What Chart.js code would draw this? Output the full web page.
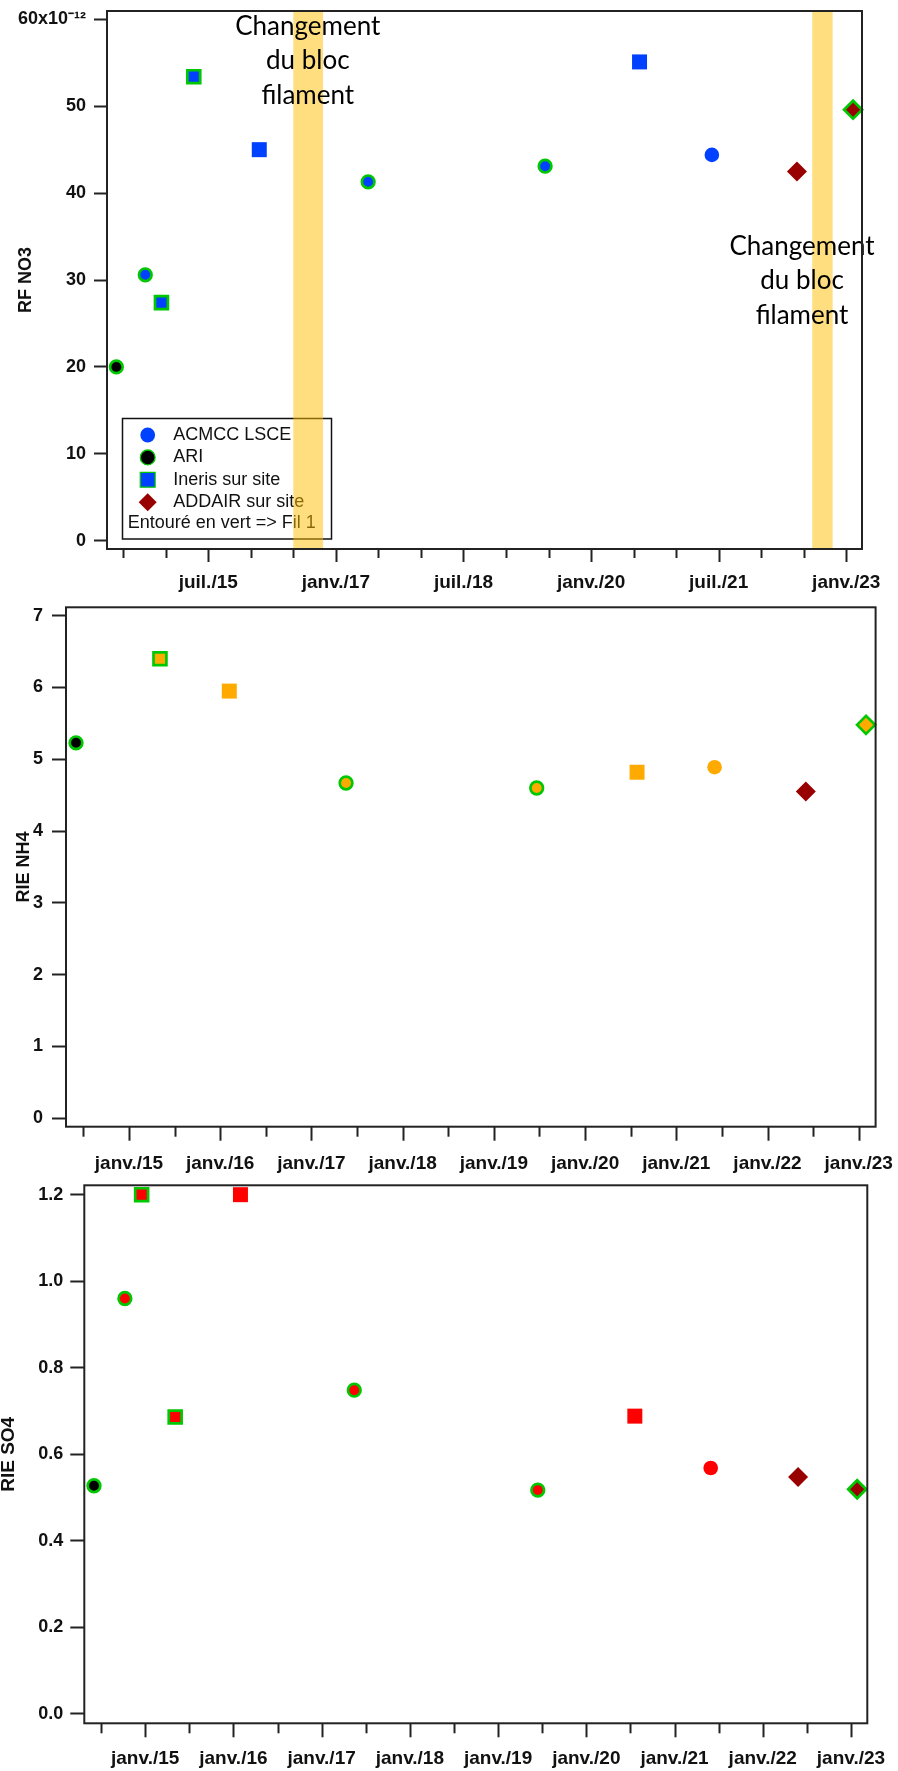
<!DOCTYPE html>
<html lang="fr">
<head>
<meta charset="utf-8">
<title>RF NO3 / RIE NH4 / RIE SO4</title>
<script src="https://cdn.jsdelivr.net/npm/chart.js@4.4.0/dist/chart.umd.min.js"></script>
<style>
  html, body { margin: 0; padding: 0; background: #fff; }
  body { width: 898px; height: 1771px; position: relative; overflow: hidden; }
  .panel { position: absolute; left: 0; }
  #panel-no3 { top: 0; }
  #panel-nh4 { top: 600px; }
  #panel-so4 { top: 1180px; }
</style>
</head>
<body>
<div class="panel" id="panel-no3"><canvas id="chart-no3" width="898" height="600"></canvas></div>
<div class="panel" id="panel-nh4"><canvas id="chart-nh4" width="898" height="580"></canvas></div>
<div class="panel" id="panel-so4"><canvas id="chart-so4" width="898" height="591"></canvas></div>
<script>
// ====== DONNÉES ======
const sources = ["ACMCC LSCE", "ARI", "Ineris sur site", "ADDAIR sur site"];

// RF NO3 (valeurs en x10^-12), dates en années décimales
const no3Dates   = [2014.42, 2014.76, 2014.95, 2015.33, 2016.10, 2017.38, 2019.46, 2020.57, 2021.42, 2022.42, 2023.08];
const no3Values  = [20.0, 30.6, 27.4, 53.4, 45.0, 41.3, 43.1, 55.1, 44.4, 42.5, 49.6];
const no3Sources = ["ARI", "ACMCC LSCE", "Ineris sur site", "Ineris sur site", "Ineris sur site", "ACMCC LSCE",
                    "ACMCC LSCE", "Ineris sur site", "ACMCC LSCE", "ADDAIR sur site", "ADDAIR sur site"];
const no3Fil1    = [true, true, true, true, false, true, true, false, false, false, true];

// RIE NH4
const nh4Dates   = [2014.42, 2015.34, 2016.10, 2017.38, 2019.47, 2020.57, 2021.42, 2022.42, 2023.08];
const nh4Values  = [5.23, 6.40, 5.95, 4.67, 4.60, 4.82, 4.89, 4.55, 5.48];
const nh4Sources = ["ARI", "Ineris sur site", "Ineris sur site", "ACMCC LSCE", "ACMCC LSCE", "Ineris sur site",
                    "ACMCC LSCE", "ADDAIR sur site", "ADDAIR sur site"];
const nh4Fil1    = [true, true, false, true, true, false, false, false, true];

// RIE SO4
const so4Dates   = [2014.42, 2014.77, 2014.96, 2015.34, 2016.08, 2017.37, 2019.45, 2020.55, 2021.41, 2022.40, 2023.07];
const so4Values  = [0.527, 0.96, 1.20, 0.686, 1.20, 0.748, 0.517, 0.688, 0.568, 0.547, 0.519];
const so4Sources = ["ARI", "ACMCC LSCE", "Ineris sur site", "Ineris sur site", "Ineris sur site", "ACMCC LSCE",
                    "ACMCC LSCE", "Ineris sur site", "ACMCC LSCE", "ADDAIR sur site", "ADDAIR sur site"];
const so4Fil1    = [true, true, true, true, false, true, true, false, false, false, true];

// étiquettes de l'axe des temps
const no3TickYears   = [2015.5, 2017, 2018.5, 2020, 2021.5, 2023];
const no3TickLabels  = ["juil./15", "janv./17", "juil./18", "janv./20", "juil./21", "janv./23"];
const yearTickYears  = [2015, 2016, 2017, 2018, 2019, 2020, 2021, 2022, 2023];
const yearTickLabels = ["janv./15", "janv./16", "janv./17", "janv./18", "janv./19", "janv./20", "janv./21", "janv./22", "janv./23"];

// changements du bloc filament
const bandStart = [2016.50, 2022.60];
const bandEnd   = [2016.85, 2022.84];
const noteX     = [2016.67, 2022.48];
const noteY     = [58.2, 32.9];
const noteLines = ["Changement", "du bloc", "filament"];

const X_MIN = 2014.31, X_MAX = 2023.185;

// ====== STYLES ======
const GREEN = "#00c800";
const DARK_RED = "#990000";
const FONT = "'Liberation Sans', Arial, sans-serif";
const shapes = { "ACMCC LSCE": "circle", "ARI": "circle", "Ineris sur site": "rect", "ADDAIR sur site": "rectRot" };
const radii = { circle: [7.3, 6.3], rect: [10.6, 9.1], rectRot: [10, 9] }; // [sans contour, contour vert]

function fillColor(panel, src, fil1) {
  if (src === "ARI") return "#000000";
  if (src === "ADDAIR sur site") return fil1 ? panel.addairFil1 : DARK_RED;
  return panel.color;
}

function tickText(years, labels) {
  return v => {
    const i = years.findIndex(y => Math.abs(y - v) < 1e-6);
    return i >= 0 ? labels[i] : "";
  };
}

// pas de marge automatique autour des axes : la zone de tracé reste fixe
function noPadding(s) {
  s.paddingTop = 0; s.paddingBottom = 0; s.paddingLeft = 0; s.paddingRight = 0;
}

function drawMarker(ctx, shape, x, y, r, fill, ring, ringW) {
  ctx.beginPath();
  if (shape === "circle") ctx.arc(x, y, r, 0, Math.PI * 2);
  else if (shape === "rect") ctx.rect(x - r, y - r, 2 * r, 2 * r);
  else { ctx.moveTo(x - r, y); ctx.lineTo(x, y - r); ctx.lineTo(x + r, y); ctx.lineTo(x, y + r); ctx.closePath(); }
  ctx.fillStyle = fill;
  ctx.fill();
  if (ring) { ctx.lineWidth = ringW; ctx.strokeStyle = ring; ctx.stroke(); }
}

// ====== PLUGIN : cadre, graduations, légende, bandes ======
function decor(panel) {
  return {
    id: "decor",
    afterDraw(chart) {
      const { ctx, chartArea: a, scales: { x, y } } = chart;
      ctx.save();

      if (panel.legend) {
        ctx.lineWidth = 1.5;
        ctx.strokeStyle = "#111";
        ctx.strokeRect(122.5, 418.5, 209, 120.5);
        ctx.font = "18px " + FONT;
        ctx.textBaseline = "middle";
        ctx.textAlign = "left";
        sources.forEach((s, i) => {
          const cy = 435 + i * 22.4;
          const shape = shapes[s];
          const r = shape === "rectRot" ? 9 : 7.4;
          const ring = (s === "ARI" || s === "Ineris sur site") ? GREEN : null;
          drawMarker(ctx, shape, 147.7, cy, r, fillColor(panel, s, false), ring, 1.3);
          ctx.fillStyle = "#111";
          ctx.fillText(s, 173.3, cy);
        });
        ctx.fillText("Entouré en vert => Fil 1", 127.7, 523.5);
      }

      if (panel.bands) {
        ctx.fillStyle = "rgba(255,190,0,0.5)";
        bandStart.forEach((b, i) => {
          const x0 = x.getPixelForValue(b), x1 = x.getPixelForValue(bandEnd[i]);
          ctx.fillRect(x0, a.top, x1 - x0, a.bottom - a.top);
        });
        ctx.fillStyle = "#000";
        ctx.font = "26px Lato, 'Open Sans', sans-serif";
        ctx.textAlign = "center";
        ctx.textBaseline = "alphabetic";
        noteX.forEach((nx, i) => {
          const px = x.getPixelForValue(nx), py = y.getPixelForValue(noteY[i]);
          noteLines.forEach((t, k) => ctx.fillText(t, px, py + k * 34.5));
        });
      }

      // graduations de l'axe des temps (longues sous les étiquettes)
      ctx.strokeStyle = "#222";
      ctx.lineWidth = 2;
      x.ticks.forEach(t => {
        const px = Math.round(x.getPixelForValue(t.value)) + 0.5;
        const len = t.label ? panel.majorTick : panel.minorTick;
        ctx.beginPath();
        ctx.moveTo(px, a.bottom);
        ctx.lineTo(px, a.bottom + len);
        ctx.stroke();
      });

      // cadre
      ctx.strokeRect(a.left, a.top, a.right - a.left, a.bottom - a.top);
      ctx.restore();
    }
  };
}

function buildDatasets(panel) {
  return sources.map(src => {
    const shape = shapes[src];
    const data = [];
    panel.dates.forEach((d, i) => {
      if (panel.sources[i] === src) data.push({ x: d, y: panel.values[i], fil1: panel.fil1[i] });
    });
    return {
      label: src,
      data,
      showLine: false,
      clip: false,
      pointStyle: shape,
      pointRadius: c => radii[shape][c.raw && c.raw.fil1 ? 1 : 0],
      pointBackgroundColor: c => fillColor(panel, src, c.raw && c.raw.fil1),
      pointBorderColor: GREEN,
      pointBorderWidth: c => (c.raw && c.raw.fil1) ? 2.7 : 0
    };
  });
}

function makeChart(panel) {
  const ctx = document.getElementById(panel.canvas).getContext("2d");
  return new Chart(ctx, {
    type: "scatter",
    data: { datasets: buildDatasets(panel) },
    options: {
      responsive: false,
      animation: false,
      events: [],
      layout: {
        autoPadding: false,
        padding: { left: 0, top: panel.area.top, right: panel.width - panel.area.right, bottom: 0 }
      },
      plugins: { legend: { display: false }, tooltip: { enabled: false } },
      scales: {
        x: {
          type: "linear",
          min: X_MIN,
          max: X_MAX,
          afterFit: s => { s.height = panel.height - panel.area.bottom; noPadding(s); },
          grid: { display: false, drawTicks: false },
          border: { display: false },
          ticks: {
            stepSize: 0.5, maxTicksLimit: 100, includeBounds: false, autoSkip: false, maxRotation: 0,
            padding: panel.xLabelPad, color: "#111",
            font: { family: FONT, size: 19, weight: "bold" },
            callback: tickText(panel.tickYears, panel.tickLabels)
          }
        },
        y: {
          type: "linear",
          min: panel.yMin,
          max: panel.yMax,
          afterFit: s => { s.width = panel.area.left; noPadding(s); },
          grid: { drawOnChartArea: false, drawTicks: true, tickLength: panel.majorTick, tickWidth: 2, tickColor: "#222" },
          border: { display: false },
          title: {
            display: true, text: panel.title, color: "#111",
            font: { family: FONT, size: panel.titleSize, weight: "bold", lineHeight: 1.2 },
            padding: { top: panel.titlePad, bottom: 0 }
          },
          ticks: {
            stepSize: panel.yStep, maxTicksLimit: 100, includeBounds: false,
            padding: panel.yLabelPad, color: "#111",
            font: { family: FONT, size: 18, weight: "bold" },
            callback: panel.yLabel
          }
        }
      }
    },
    plugins: [decor(panel)]
  });
}

// ====== LES TROIS GRAPHIQUES ======
makeChart({
  canvas: "chart-no3", width: 898, height: 600,
  area: { left: 107, top: 11, right: 862, bottom: 549 },
  dates: no3Dates, values: no3Values, sources: no3Sources, fil1: no3Fil1,
  color: "#0040ff", addairFil1: DARK_RED,
  yMin: -0.96, yMax: 60.96, yStep: 10,
  yLabel: v => (Math.round(v) === 60 ? "60x10\u207B\u00B9\u00B2" : String(Math.round(v))),
  tickYears: no3TickYears, tickLabels: no3TickLabels,
  title: "RF NO3", titleSize: 18, titlePad: 15,
  xLabelPad: 22.6, yLabelPad: 8, majorTick: 13, minorTick: 9,
  legend: true, bands: true
});

makeChart({
  canvas: "chart-nh4", width: 898, height: 580,
  area: { left: 66, top: 7.3, right: 875.6, bottom: 526.7 },
  dates: nh4Dates, values: nh4Values, sources: nh4Sources, fil1: nh4Fil1,
  color: "#ffaa00", addairFil1: "#ffaa00",
  yMin: -0.117, yMax: 7.117, yStep: 1,
  yLabel: v => String(Math.round(v)),
  tickYears: yearTickYears, tickLabels: yearTickLabels,
  title: "RIE NH4", titleSize: 18, titlePad: 13,
  xLabelPad: 25.2, yLabelPad: 9, majorTick: 14, minorTick: 10,
  legend: false, bands: false
});

makeChart({
  canvas: "chart-so4", width: 898, height: 591,
  area: { left: 84.3, top: 5.3, right: 867.3, bottom: 543.3 },
  dates: so4Dates, values: so4Values, sources: so4Sources, fil1: so4Fil1,
  color: "#ff0000", addairFil1: DARK_RED,
  yMin: -0.0222, yMax: 1.2217, yStep: 0.2,
  yLabel: v => v.toFixed(1),
  tickYears: yearTickYears, tickLabels: yearTickLabels,
  title: "RIE SO4", titleSize: 19, titlePad: -2.4,
  xLabelPad: 23.6, yLabelPad: 7, majorTick: 14, minorTick: 10,
  legend: false, bands: false
});
</script>
</body>
</html>
